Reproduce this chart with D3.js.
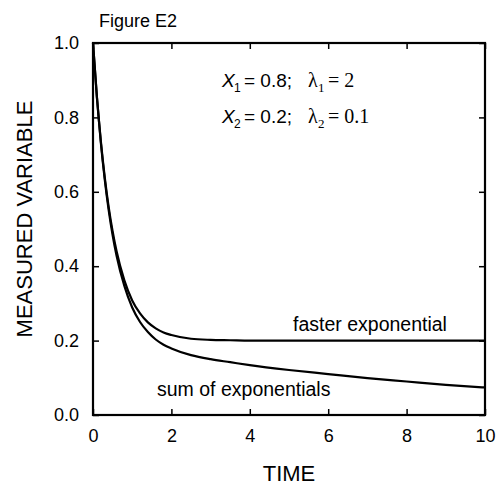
<!DOCTYPE html>
<html><head><meta charset="utf-8">
<script src="https://cdn.jsdelivr.net/npm/d3@7"></script>
<style>body{margin:0;background:#fff}svg{display:block}</style>
</head><body><svg id="c" width="499" height="487" font-family="Liberation Sans, Arial, Helvetica, sans-serif"></svg>
<script>
const timePoints = [0,0.1,0.2,0.3,0.4,0.5,0.6,0.8,1.0,1.2,1.4,1.6,1.8,2.0,2.5,3,3.5,4,5,6,7,8,9,10];
const sumValues  = [1.0,0.853,0.732,0.633,0.551,0.484,0.429,0.347,0.289,0.250,0.223,0.203,0.189,0.179,0.161,0.150,0.142,0.134,0.121,0.110,0.099,0.090,0.081,0.074];
const fastValues = [1.0,0.855,0.736,0.639,0.559,0.494,0.441,0.362,0.308,0.273,0.249,0.233,0.222,0.215,0.205,0.202,0.201,0.200,0.200,0.200,0.200,0.200,0.200,0.200];
const xTicks = [0,2,4,6,8,10];
const yTicks = [0,0.2,0.4,0.6,0.8,1.0];

const svg = d3.select("#c");
const L=93,R=485,T=43,B=415;
const x = d3.scaleLinear().domain([0,10]).range([L,R]);
const y = d3.scaleLinear().domain([0,1]).range([B,T]);

const line = d3.line().x(d=>x(d[0])).y(d=>y(d[1])).curve(d3.curveMonotoneX);
svg.append("path").datum(timePoints.map((t,i)=>[t,fastValues[i]])).attr("d",line)
  .attr("fill","none").attr("stroke","#000").attr("stroke-width",2.2);
svg.append("path").datum(timePoints.map((t,i)=>[t,sumValues[i]])).attr("d",line)
  .attr("fill","none").attr("stroke","#000").attr("stroke-width",2.2);

const tk=6;
const sans = "Liberation Sans, Arial, Helvetica, sans-serif";
const ax = g=>g.selectAll(".domain").remove();
svg.append("g").attr("transform",`translate(0,${B})`)
  .call(d3.axisBottom(x).tickValues(xTicks).tickFormat(d3.format("d")).tickSizeInner(-tk).tickSizeOuter(0).tickPadding(14))
  .call(ax).call(g=>g.selectAll("text").attr("font-size",18).attr("font-family",sans).attr("fill","#000"))
  .call(g=>g.selectAll("line").attr("stroke","#000").attr("stroke-width",1.5));
svg.append("g").attr("transform",`translate(0,${T})`)
  .call(d3.axisTop(x).tickValues(xTicks).tickFormat("").tickSizeInner(-tk).tickSizeOuter(0))
  .call(ax).call(g=>g.selectAll("line").attr("stroke","#000").attr("stroke-width",1.5));
svg.append("g").attr("transform",`translate(${L},0)`)
  .call(d3.axisLeft(y).tickValues(yTicks).tickFormat(d3.format(".1f")).tickSizeInner(-tk).tickSizeOuter(0).tickPadding(14))
  .call(ax).call(g=>g.selectAll("text").attr("font-size",18).attr("font-family",sans).attr("fill","#000"))
  .call(g=>g.selectAll("line").attr("stroke","#000").attr("stroke-width",1.5));
svg.append("g").attr("transform",`translate(${R},0)`)
  .call(d3.axisRight(y).tickValues(yTicks).tickFormat("").tickSizeInner(-tk).tickSizeOuter(0))
  .call(ax).call(g=>g.selectAll("line").attr("stroke","#000").attr("stroke-width",1.5));

svg.append("rect").attr("x",L).attr("y",T).attr("width",R-L).attr("height",B-T)
  .attr("fill","none").attr("stroke","#000").attr("stroke-width",2.2);

svg.append("text").attr("x",99).attr("y",27).attr("font-size",18).text("Figure E2");
svg.append("text").attr("x",(L+R)/2).attr("y",481).attr("text-anchor","middle").attr("font-size",22).text("TIME");
svg.append("text").attr("transform",`translate(32,219) rotate(-90)`).attr("text-anchor","middle").attr("font-size",22).text("MEASURED VARIABLE");

svg.append("text").attr("x",293).attr("y",331).attr("font-size",19.5).text("faster exponential");
svg.append("text").attr("x",157).attr("y",396).attr("font-size",19.5).text("sum of exponentials");

const ann = [["1","0.8","2"],["2","0.2","0.1"]];
const serif = "Liberation Serif, Times New Roman, serif";
ann.forEach((a,i)=>{
  const by = 87 + i*36;
  svg.append("text").attr("x",222).attr("y",by).attr("font-size",19).attr("font-style","italic").text("X");
  svg.append("text").attr("x",234).attr("y",by+5).attr("font-size",12).text(a[0]);
  svg.append("text").attr("x",244).attr("y",by).attr("font-size",19).text("= "+a[1]+";");
  svg.append("text").attr("x",308).attr("y",by).attr("font-size",20).attr("font-family",serif).text("λ");
  svg.append("text").attr("x",318).attr("y",by+5).attr("font-size",13).attr("font-family",serif).text(a[0]);
  svg.append("text").attr("x",328).attr("y",by).attr("font-size",20).attr("font-family",serif).text("= "+a[2]);
});
</script></body></html>
